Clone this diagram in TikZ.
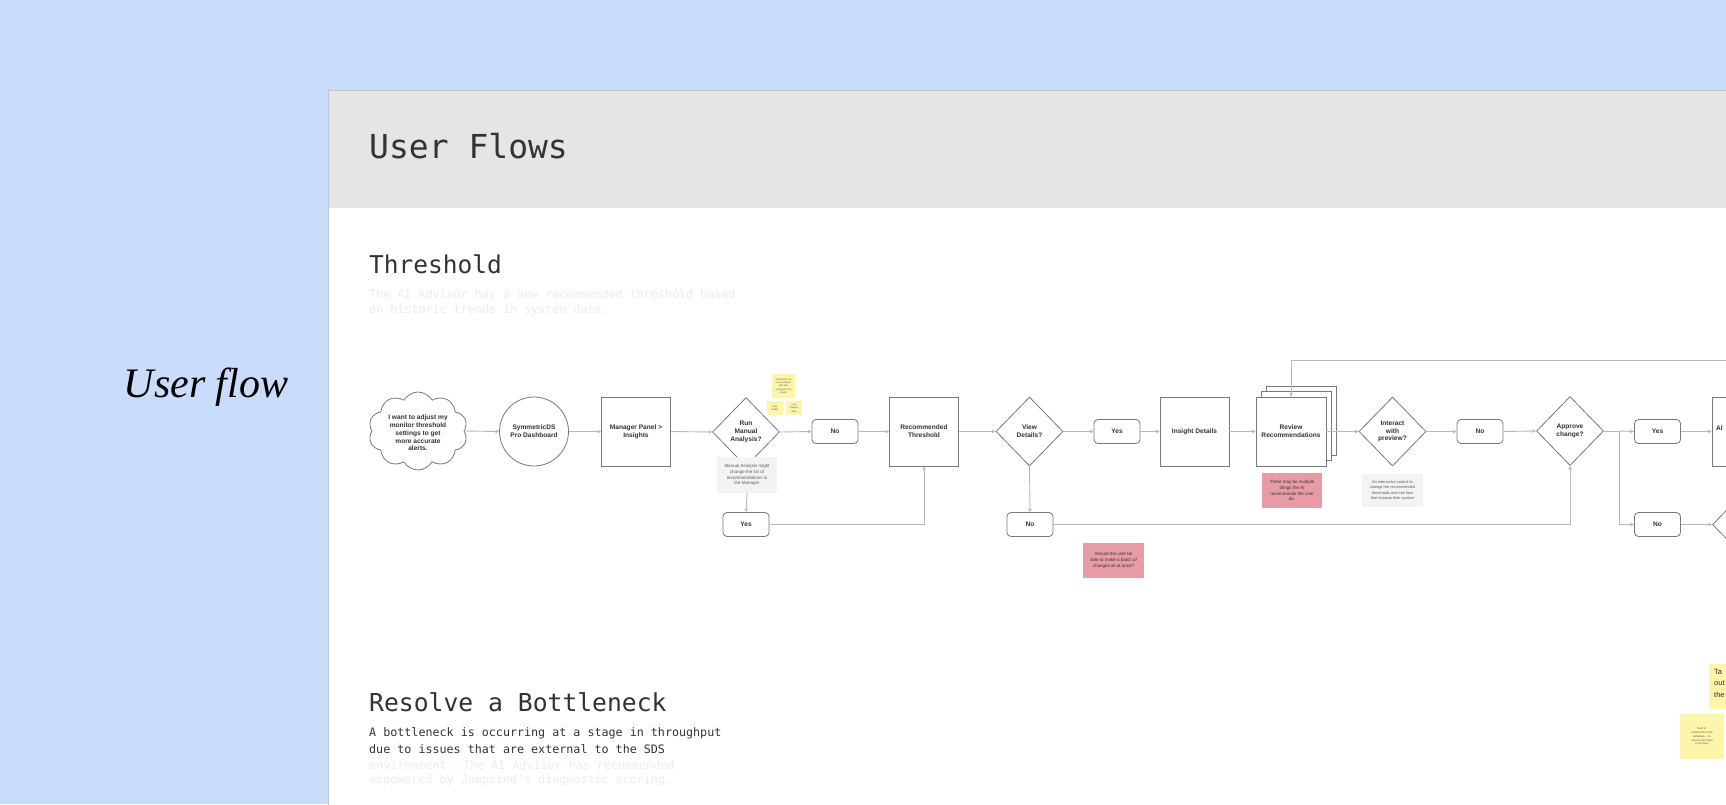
\documentclass[tikz,border=0pt]{standalone}
\usepackage{fontspec}
\setmainfont{Liberation Sans}
\newfontfamily\monof{DejaVu Sans Mono}
\newfontfamily\serf{Liberation Serif}
\usetikzlibrary{shapes.geometric,shapes.symbols,arrows.meta,calc}
\definecolor{bgblue}{RGB}{201,220,251}
\definecolor{hdr}{RGB}{229,229,229}
\definecolor{panelline}{RGB}{196,196,196}
\definecolor{hd}{RGB}{51,51,51}
\definecolor{faint}{RGB}{236,236,236}
\definecolor{nodeline}{RGB}{120,120,120}
\definecolor{connline}{RGB}{185,185,185}
\definecolor{rednote}{RGB}{231,156,165}
\definecolor{greynote}{RGB}{242,243,245}
\definecolor{sticky}{RGB}{253,245,170}
\definecolor{notetext}{RGB}{90,90,90}
\newcommand\nodefnt{\fontsize{6.6}{7.8}\selectfont\bfseries}
\newcommand\notefnt{\fontsize{4.5}{5.8}\selectfont}
\newcommand\tinyfnt{\fontsize{2.4}{3.2}\selectfont}
\begin{document}
\begin{tikzpicture}[x=1pt,y=-1pt,
  box/.style={draw=nodeline, line width=0.8pt, fill=white, minimum width=69pt, minimum height=69pt, inner sep=1pt, align=center, font=\nodefnt, text=hd},
  dia/.style={diamond, draw=nodeline, line width=0.8pt, fill=white, minimum width=67pt, minimum height=69pt, inner sep=0pt, align=center, font=\nodefnt, text=hd},
  pill/.style={rounded corners=4pt, draw=nodeline, line width=0.8pt, fill=white, minimum width=46pt, minimum height=24pt, inner sep=0pt, font=\nodefnt, text=hd},
  gnote/.style={fill=greynote, inner sep=0pt, align=center, font=\notefnt, text=notetext},
  rnote/.style={fill=rednote, inner sep=0pt, align=center, font=\notefnt, text=hd},
  stk/.style={fill=sticky, inner sep=0pt, align=center, font=\tinyfnt, text=notetext},
  conn/.style={draw=connline, line width=0.9pt, -{Stealth[length=4pt,width=3.8pt]}},
  plain/.style={draw=connline, line width=0.9pt},
  mono/.style={inner sep=0pt, anchor=west, text=hd}
]
\useasboundingbox (0,0) rectangle (1726,804);
\clip (0,0) rectangle (1726,804);
\fill[bgblue] (0,0) rectangle (1726,804);
% panel
\path[fill=white, draw=panelline, line width=1pt] (328,90) rectangle (1760,840);
\fill[hdr] (328.5,90.5) rectangle (1760,208);

\node[font=\serf\itshape\fontsize{42}{48}\selectfont, text=black, inner sep=0pt] (uflow) at (206,387) {User flow};

\node[mono, font=\monof\fontsize{33}{40}\selectfont] (title) at (369,146) {User Flows};
\node[mono, font=\monof\fontsize{24.5}{30}\selectfont] (thr) at (369,264) {Threshold};
\node[mono, font=\monof\fontsize{11.7}{16}\selectfont, text=faint] (thrd1) at (369,294) {The AI Advisor has a new recommended threshold based};
\node[mono, font=\monof\fontsize{11.7}{16}\selectfont, text=faint] (thrd2) at (369,310) {on historic trends in system data.};

\node[mono, font=\monof\fontsize{24.7}{30}\selectfont] (res) at (369,702) {Resolve a Bottleneck};
\node[mono, font=\monof\fontsize{11.7}{16}\selectfont, text=hd] (rs1) at (369,733) {A bottleneck is occurring at a stage in throughput};
\node[mono, font=\monof\fontsize{11.7}{16}\selectfont, text=hd] (rs2) at (369,749) {due to issues that are external to the SDS};
\node[mono, font=\monof\fontsize{11.7}{16}\selectfont, text=faint] (rs3) at (369,765) {environment. The AI Advisor has recommended};
\node[mono, font=\monof\fontsize{11.7}{16}\selectfont, text=faint] (rs4) at (369,780) {empowered by Jumpmind's diagnostic scoring.};

% flow nodes
\node[cloud, cloud puffs=10, cloud puff arc=120, aspect=1.27, draw=nodeline, line width=0.8pt, fill=white, minimum width=99pt, minimum height=78pt, inner sep=0pt] (cl) at (418,431) {};
\node[align=center, font=\nodefnt, text=hd, inner sep=0pt] (clt) at (418,433) {I want to adjust my\\monitor threshold\\settings to get\\more accurate\\alerts.};
\node[circle, draw=nodeline, line width=0.8pt, fill=white, minimum size=69pt, inner sep=0pt, align=center, font=\nodefnt, text=hd] (ci) at (534,431.5) {SymmetricDS\\Pro Dashboard};
\node[box] (mp) at (636,431.5) {Manager Panel >\\Insights};
\node[dia] (d1) at (746,432) {Run\\Manual\\Analysis?};
\node[gnote, minimum width=60pt, minimum height=36pt] (n1) at (747,475) {Manual Analysis might\\change the list of\\recommendations in\\the Manager};
\node[pill] (y1) at (746,524.5) {Yes};
\node[pill] (no1) at (835,431.5) {No};
\node[box] (rt) at (924,431.5) {Recommended\\Threshold};
\node[dia] (d2) at (1029.5,431.5) {View\\Details?};
\node[pill] (y2) at (1117,431.5) {Yes};
\node[pill] (no2) at (1030,524.5) {No};
\node[rnote, minimum width=61pt, minimum height=35pt] (rn2) at (1113.5,560.5) {Should the user be\\able to make a batch of\\changes all at once?};
\node[box] (ins) at (1194.5,431.5) {Insight Details};
\node[box, minimum width=70pt] (rv3) at (1301,420.5) {};
\node[box, minimum width=70pt] (rv2) at (1296,426) {};
\node[box, minimum width=70pt] (rv) at (1291,431.5) {Review\\Recommendations};
\node[rnote, minimum width=60pt, minimum height=35pt] (rn1) at (1292,490.5) {There may be multiple\\things the AI\\recommends the user\\do.};
\node[dia] (d3) at (1392.5,431.5) {Interact\\with\\preview?};
\node[gnote, minimum width=61pt, minimum height=33pt, font=\fontsize{3.9}{5.1}\selectfont] (gn2) at (1392.5,490.5) {An interactive control to\\change the recommended\\thresholds and see how\\that impacts their system};
\node[pill] (no3) at (1480,431.5) {No};
\node[dia] (d4) at (1570,431) {Approve\\change?};
\node[pill] (y4) at (1657.5,431.5) {Yes};
\node[pill] (no4) at (1657.5,524.5) {No};
\node[box] (al) at (1746.5,431.5) {};
\node[anchor=west, font=\nodefnt, text=hd, inner sep=0pt] (alt) at (1716,428) {Al};
\node[dia] (d5) at (1746,524.5) {};
\coordinate (lp) at (1740,360);
\coordinate (br) at (1619,431);

% stickies
\node[stk, minimum width=23pt, minimum height=24pt] (s1) at (783.5,386) {Should this run\\a new analysis\\with new\\settings for the\\model};
\node[stk, minimum width=16pt, minimum height=14pt] (s2) at (775,408) {Help\\tooltip};
\node[stk, minimum width=16pt, minimum height=14pt] (s3) at (794,408) {Last\\analysis\\date};
\node[stk, minimum width=52pt, minimum height=45pt, anchor=west] (s4) at (1709,686.5) {};
\node[anchor=north west, align=left, inner sep=0pt, font=\fontsize{7.5}{11.5}\selectfont, text=hd] (s4t) at (1714,669) {Ta\\out\\the};
\node[stk, minimum width=44pt, minimum height=45pt, font=\fontsize{2.8}{3.8}\selectfont] (s5) at (1702,736.5) {level of\\connection to the\\database -- no\\visual connection\\to the peer};

% connectors
\draw[conn] (cl.east) -- (ci.west);
\draw[conn] (ci.east) -- (mp.west);
\draw[conn] (mp.east) -- (d1.west);
\draw[conn] (d1.east) -- (no1.west);
\draw[conn] (no1.east) -- (rt.west);
\draw[conn] (n1.south) -- (y1.north);
\draw[conn] (y1.east) -- (rt.south |- y1.east) -- (rt.south);
\draw[conn] (rt.east) -- (d2.west);
\draw[conn] (d2.east) -- (y2.west);
\draw[conn] (d2.south) -- (no2.north);
\draw[conn] (y2.east) -- (ins.west);
\draw[conn] (ins.east) -- (rv.west);
\draw[conn] (rv.east) -- (d3.west);
\draw[conn] (d3.east) -- (no3.west);
\draw[conn] (no3.east) -- (d4.west);
\draw[plain] (d4.east) -- (br);
\draw[conn] (br) -- (y4.west);
\draw[conn] (br) |- (no4.west);
\draw[conn] (no2.east) -- (d4.south |- no2.east) -- (d4.south);
\draw[conn] (y4.east) -- (al.west);
\draw[conn] (no4.east) -- (d5.west);
\draw[conn] (lp) -- (rv.north |- lp) -- (rv.north);
\end{tikzpicture}
\end{document}
